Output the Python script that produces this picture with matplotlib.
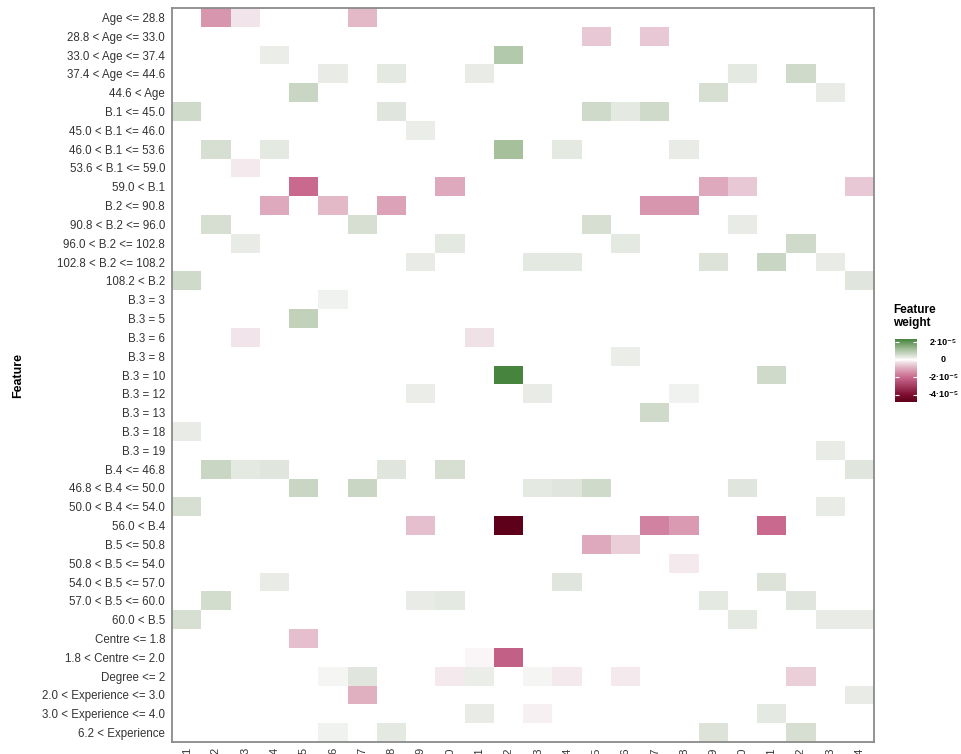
import matplotlib
matplotlib.use("Agg")
import matplotlib.pyplot as plt
import numpy as np
from matplotlib.colors import LinearSegmentedColormap, Normalize

plt.rcParams['font.family'] = ['Liberation Sans', 'DejaVu Sans']

# Feature bins (rows) and explained cases (columns)
features = [
    'Age <= 28.8', '28.8 < Age <= 33.0', '33.0 < Age <= 37.4', '37.4 < Age <= 44.6',
    '44.6 < Age', 'B.1 <= 45.0', '45.0 < B.1 <= 46.0', '46.0 < B.1 <= 53.6',
    '53.6 < B.1 <= 59.0', '59.0 < B.1', 'B.2 <= 90.8', '90.8 < B.2 <= 96.0',
    '96.0 < B.2 <= 102.8', '102.8 < B.2 <= 108.2', '108.2 < B.2', 'B.3 = 3',
    'B.3 = 5', 'B.3 = 6', 'B.3 = 8', 'B.3 = 10', 'B.3 = 12', 'B.3 = 13',
    'B.3 = 18', 'B.3 = 19', 'B.4 <= 46.8', '46.8 < B.4 <= 50.0',
    '50.0 < B.4 <= 54.0', '56.0 < B.4', 'B.5 <= 50.8', '50.8 < B.5 <= 54.0',
    '54.0 < B.5 <= 57.0', '57.0 < B.5 <= 60.0', '60.0 < B.5', 'Centre <= 1.8',
    '1.8 < Centre <= 2.0', 'Degree <= 2', '2.0 < Experience <= 3.0',
    '3.0 < Experience <= 4.0', '6.2 < Experience',
]
cases = [str(i) for i in range(1, 25)]

# Non-zero feature weights per feature, {case index: weight in 1e-5}
weights = [
    {1: -1.3, 2: -0.25, 6: -0.8},
    {14: -0.6, 16: -0.6},
    {3: 0.2, 11: 1.0},
    {5: 0.25, 7: 0.3, 10: 0.25, 19: 0.3, 21: 0.6},
    {4: 0.7, 18: 0.5, 22: 0.25},
    {0: 0.6, 7: 0.35, 14: 0.6, 15: 0.3, 16: 0.6},
    {8: 0.2},
    {1: 0.5, 3: 0.3, 11: 1.2, 13: 0.3, 17: 0.25},
    {2: -0.2},
    {4: -2.0, 9: -1.0, 18: -1.0, 19: -0.6, 23: -0.6},
    {3: -1.0, 5: -0.8, 7: -1.1, 16: -1.3, 17: -1.3},
    {1: 0.5, 6: 0.5, 14: 0.5, 19: 0.25},
    {2: 0.25, 9: 0.3, 15: 0.3, 21: 0.6},
    {8: 0.25, 12: 0.3, 13: 0.3, 18: 0.4, 20: 0.7, 22: 0.25},
    {0: 0.6, 23: 0.35},
    {5: 0.15},
    {4: 0.8},
    {2: -0.25, 10: -0.3},
    {15: 0.2},
    {11: 2.3, 20: 0.6},
    {8: 0.2, 12: 0.25, 17: 0.15},
    {16: 0.6},
    {0: 0.25},
    {22: 0.25},
    {1: 0.7, 2: 0.3, 3: 0.35, 7: 0.35, 9: 0.5, 23: 0.35},
    {4: 0.7, 6: 0.7, 12: 0.3, 13: 0.35, 14: 0.6, 19: 0.35},
    {0: 0.5, 22: 0.25},
    {8: -0.7, 11: -4.8, 16: -1.6, 17: -1.2, 20: -2.0},
    {14: -1.0, 15: -0.5},
    {17: -0.2},
    {3: 0.25, 13: 0.35, 20: 0.4},
    {1: 0.55, 8: 0.25, 9: 0.3, 18: 0.3, 21: 0.35},
    {0: 0.5, 19: 0.3, 22: 0.25, 23: 0.25},
    {4: -0.7},
    {10: -0.1, 11: -2.2},
    {5: 0.1, 6: 0.35, 9: -0.2, 10: 0.2, 12: 0.1, 13: -0.2, 15: -0.2, 21: -0.5},
    {6: -0.9, 23: 0.25},
    {10: 0.25, 12: -0.15, 20: 0.3},
    {5: 0.15, 7: 0.3, 18: 0.4, 21: 0.5},
]
scale = 1e-5
wmin, wmax = -4.8e-5, 2.35e-5

mat = np.zeros((len(features), len(cases)))
for r, row in enumerate(weights):
    for c, v in row.items():
        mat[r, c] = v * scale
mat = np.ma.masked_equal(mat, 0)

# diverging palette: maroon -> pink -> white (at 0) -> green
def pos(v):
    return (v * scale - wmin) / (wmax - wmin)

anchors = [(-4.8, '#5e0019'), (-4.0, '#7d0c30'), (-2.0, '#c9698e'),
           (-1.0, '#dea8bb'), (-0.3, '#efe0e6'), (0.0, '#ffffff'),
           (0.25, '#e8ebe6'), (0.7, '#c9d6c3'), (1.2, '#a5c09b'),
           (2.35, '#45823c')]
cmap = LinearSegmentedColormap.from_list('fw', [(pos(v), c) for v, c in anchors])
norm = Normalize(vmin=wmin, vmax=wmax)

fig = plt.figure(figsize=(9.61, 7.54), dpi=100)
ax = fig.add_axes([0.179, 0.0159, 0.7305, 0.9735])
ax.pcolormesh(np.arange(len(cases) + 1), np.arange(len(features) + 1), mat,
              cmap=cmap, norm=norm)
ax.set_xlim(0, len(cases))
ax.set_ylim(len(features), 0)

ax.set_yticks(np.arange(len(features)) + 0.5)
ax.set_yticklabels(features, fontsize=8.3, color='#333333')
ax.set_xticks(np.arange(len(cases)) + 0.5)
ax.set_xticklabels(cases, rotation=90, fontsize=8, color='#333333', va='top')
ax.tick_params(axis='both', length=0)
ax.tick_params(axis='y', pad=5)
ax.tick_params(axis='x', pad=4)
for s in ax.spines.values():
    s.set_color('#8a8a8a')
    s.set_linewidth(1.3)

fig.text(0.019, 0.502, 'Feature', rotation=90, fontsize=9, fontweight='bold',
         ha='center', va='center')

# colour legend
cax = fig.add_axes([0.9313, 0.4668, 0.0229, 0.0836])
cb = fig.colorbar(plt.cm.ScalarMappable(norm=norm, cmap=cmap), cax=cax)
cb.outline.set_visible(False)
cb_ticks = [2e-5, 0, -2e-5, -4e-5]
cb_labels = ['2·10⁻⁵', '0', '-2·10⁻⁵', '-4·10⁻⁵']
cb.set_ticks(cb_ticks)
cb.set_ticklabels([])
cax.tick_params(length=3, width=0.8, color='white', direction='in', left=True, right=True)
for t, lab in zip(cb_ticks, cb_labels):
    cax.text(2.2, t, lab, transform=cax.get_yaxis_transform(), ha='center',
             va='center', fontsize=6.5, fontweight='bold')
fig.text(0.929, 0.580, 'Feature\nweight', fontsize=8.5, fontweight='bold',
         ha='left', va='center', linespacing=1.1)

fig.savefig('out.png', dpi=100)
